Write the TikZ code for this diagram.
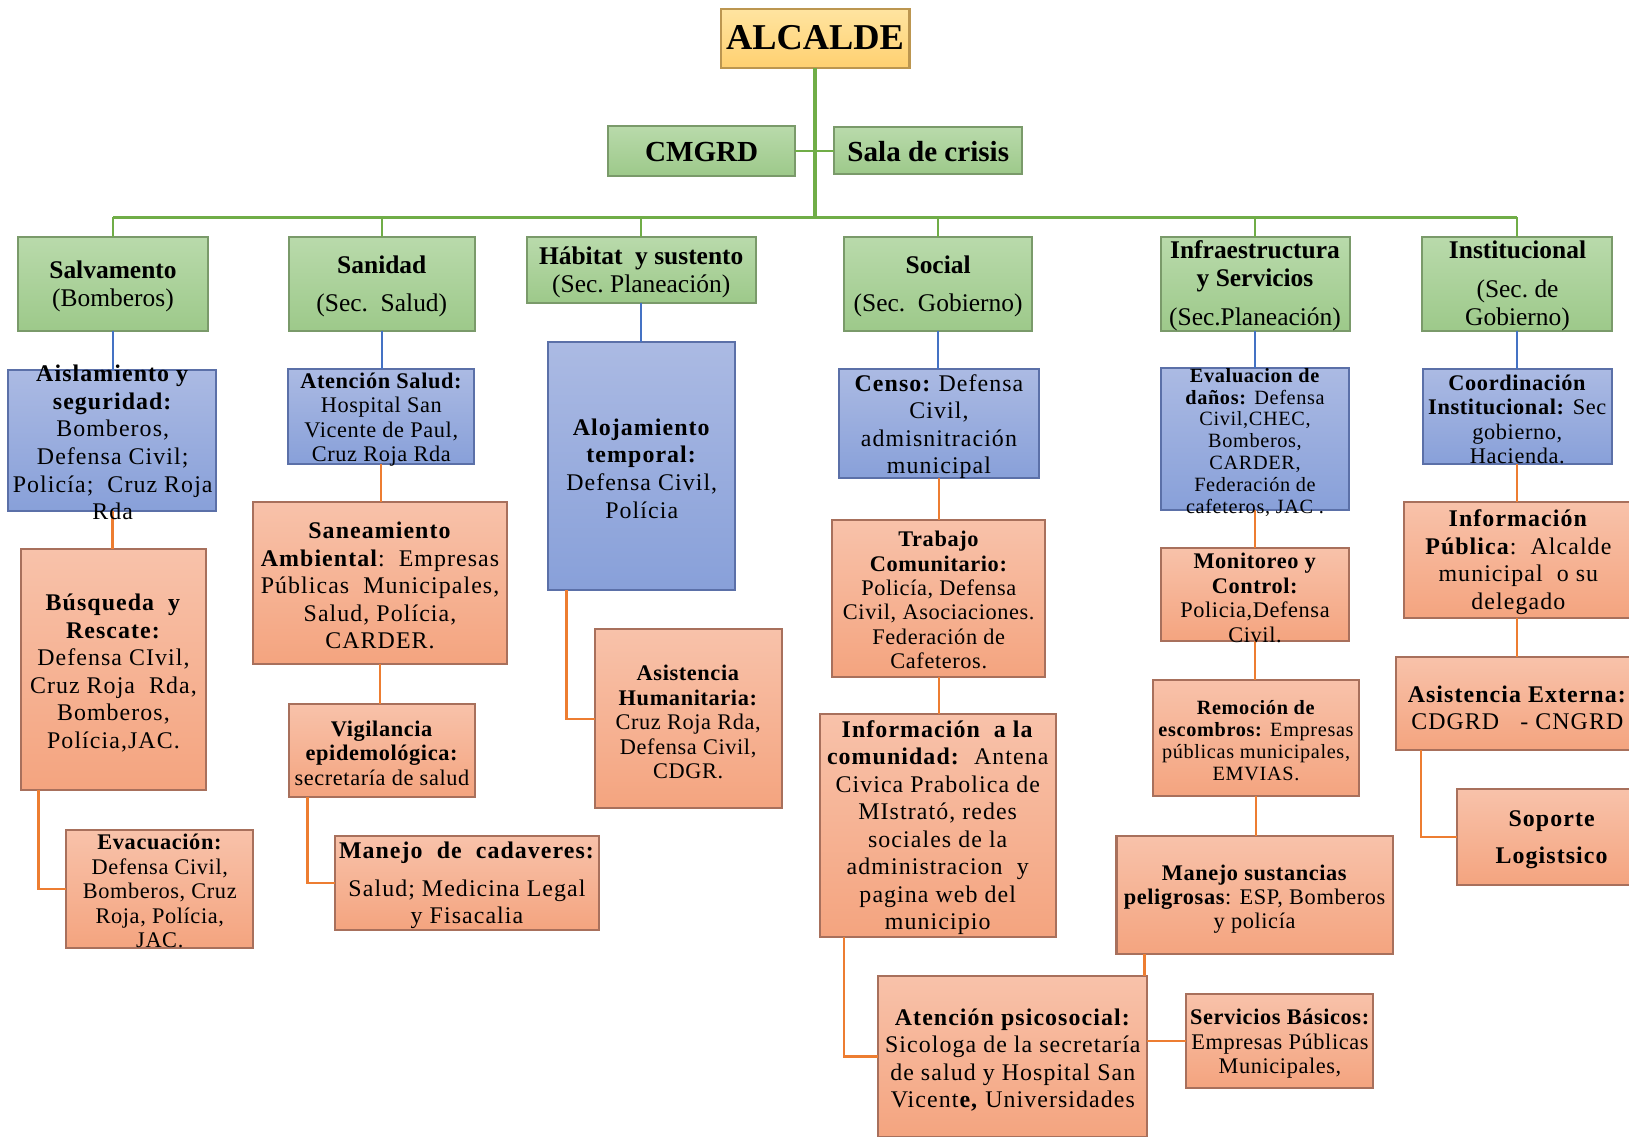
\documentclass[tikz,border=0pt]{standalone}
\usepackage{fontspec}
\setmainfont{Liberation Serif}
\newfontfamily\lsA[LetterSpace=4.5]{Liberation Serif}
\newfontfamily\lsB[LetterSpace=2.75]{Liberation Serif}
\newfontfamily\lsC[LetterSpace=3.25]{Liberation Serif}
\definecolor{gtop}{HTML}{B9DAAB}
\definecolor{gbot}{HTML}{9DC98A}
\definecolor{gdraw}{HTML}{7A9A6A}
\definecolor{btop}{HTML}{ABBAE3}
\definecolor{bbot}{HTML}{88A0D9}
\definecolor{bdraw}{HTML}{5B70A8}
\definecolor{otop}{HTML}{F8C2AA}
\definecolor{obot}{HTML}{F4A47F}
\definecolor{odraw}{HTML}{A8705C}
\definecolor{ytop}{HTML}{FFE4A0}
\definecolor{ybot}{HTML}{FFD070}
\definecolor{ydraw}{HTML}{BC9650}
\definecolor{lgreen}{HTML}{70AD47}
\definecolor{lblue}{HTML}{4472C4}
\definecolor{lorange}{HTML}{ED7D31}
\newcommand\fszA{\lsA\fontsize{11.5}{13.25}\selectfont}
\newcommand\fszB{\lsB\fontsize{10.75}{11.75}\selectfont}
\newcommand\fszC{\lsC\fontsize{9.75}{10.5}\selectfont}
\newcommand\fszH{\fontsize{12.25}{13.5}\selectfont}
\newcommand\mkbox[6]{\node[#1, minimum width={(#5-#3)*0.5pt}, minimum height={(#6-#4)*0.5pt}] (#2) at ({(#3+#5)/2},{(#4+#6)/2}) {};}
\newcommand\mktxt[5]{\node[txt, font=#2] (#1) at (#3,#4) {#5};}
\tikzset{
  bxbase/.style={rectangle, inner sep=0pt, outer sep=0pt, line width=1pt},
  gbox/.style={bxbase, top color=gtop, bottom color=gbot, draw=gdraw},
  bbox/.style={bxbase, top color=btop, bottom color=bbot, draw=bdraw},
  obox/.style={bxbase, top color=otop, bottom color=obot, draw=odraw},
  ybox/.style={bxbase, top color=ytop, bottom color=ybot, draw=ydraw},
  txt/.style={align=center, inner sep=0pt, text=black},
  gline/.style={draw=lgreen, line width=1.1pt},
  bline/.style={draw=lblue, line width=1.1pt},
  oline/.style={draw=lorange, line width=1.2pt},
}
\begin{document}
\begin{tikzpicture}[x=0.5pt,y=-0.5pt]
\useasboundingbox (0,0) rectangle (1568,1094);
\clip (0,0) rectangle (1568,1094);
% ---------- boxes
\mkbox{ybox}{alc}{693.7}{9}{875.4}{65.8}
\mkbox{gbox}{cmgrd}{585.5}{121}{765.2}{169.4}
\mkbox{gbox}{sala}{803.2}{122.6}{983.7}{167.8}
\mkbox{gbox}{salv}{17.6}{228.4}{199.9}{318.3}
\mkbox{gbox}{san}{277.9}{228.4}{457.1}{318.3}
\mkbox{gbox}{hab}{507}{228.4}{727.5}{291.3}
\mkbox{gbox}{soc}{812.8}{228.4}{993}{318.3}
\mkbox{gbox}{inf}{1117.2}{228.4}{1299.3}{318.3}
\mkbox{gbox}{inst}{1369}{228.4}{1551.3}{318.3}
\mkbox{bbox}{ais}{8}{356.1}{208.2}{491.6}
\mkbox{bbox}{ats}{277}{355.5}{456.5}{446.6}
\mkbox{bbox}{aloj}{527.7}{328.9}{707.7}{567.9}
\mkbox{bbox}{censo}{807.2}{355.5}{1000.4}{460.4}
\mkbox{bbox}{eval}{1117.2}{354.5}{1298.8}{490.9}
\mkbox{bbox}{coord}{1369.4}{355.5}{1551.3}{447}
\mkbox{obox}{busq}{19.8}{528.8}{198.5}{760.4}
\mkbox{obox}{evac}{63.9}{799}{243.6}{912.8}
\mkbox{obox}{sane}{243.5}{482.9}{488}{639.1}
\mkbox{obox}{vig}{277.8}{677.6}{457.5}{766.8}
\mkbox{obox}{cad}{322.4}{804.4}{576.6}{895.2}
\mkbox{obox}{hum}{572.4}{605.8}{752.4}{778}
\mkbox{obox}{trab}{801.2}{500.5}{1006}{651.3}
\mkbox{obox}{infc}{789.2}{687}{1016}{901.6}
\mkbox{obox}{psi}{845.5}{939.5}{1104.2}{1094.5}
\mkbox{obox}{serv}{1142}{956.8}{1321.9}{1047}
\mkbox{obox}{mon}{1117.2}{527.2}{1298.8}{616.7}
\mkbox{obox}{rem}{1109.5}{654.5}{1308.4}{766.5}
\mkbox{obox}{sust}{1074.7}{804.7}{1341}{918.6}
\mkbox{obox}{ipub}{1351.7}{482.9}{1575}{595.2}
\mkbox{obox}{aext}{1344}{632.8}{1578}{721.9}
\mkbox{obox}{sop}{1402}{759.8}{1585}{851.9}
% ---------- green tree
\coordinate (bus) at (784.3,209.2);
\draw[gline, line width=1.6pt] (alc.south) -- (alc.south |- bus);
\draw[gline, line width=1.6pt] (salv.north |- bus) -- (inst.north |- bus);
\foreach \n in {salv,san,hab,soc,inf,inst} \draw[gline] (\n.north) -- (\n.north |- bus);
\draw[gline] (cmgrd.east) -- (cmgrd.east -| alc.south);
\draw[gline] (sala.west) -- (sala.west -| alc.south);
% ---------- blue drops
\draw[bline] (salv.south) -- (salv.south |- ais.north);
\draw[bline] (san.south) -- (san.south |- ats.north);
\draw[bline] (hab.south) -- (hab.south |- aloj.north);
\draw[bline] (soc.south) -- (soc.south |- censo.north);
\draw[bline] (inf.south) -- (inf.south |- eval.north);
\draw[bline] (inst.south) -- (inst.south |- coord.north);
% ---------- orange connectors
\draw[oline] (ais.south) -- (ais.south |- busq.north);
\draw[oline] ([xshift=8.6pt]busq.south west) |- (evac.west);
\draw[oline] (ats.south) -- (ats.south |- sane.north);
\draw[oline] (sane.south) -- (sane.south |- vig.north);
\draw[oline] ([xshift=9.1pt]vig.south west) |- (cad.west);
\draw[oline] ([xshift=8.8pt]aloj.south west) |- (hum.west);
\draw[oline] (censo.south) -- (censo.south |- trab.north);
\draw[oline] (trab.south) -- (trab.south |- infc.north);
\draw[oline] ([xshift=11.6pt]infc.south west) |- (psi.west);
\draw[oline] (serv.west) -- (serv.west -| psi.east);
\draw[oline] (eval.south) -- (eval.south |- mon.north);
\draw[oline] (mon.south) -- (mon.south |- rem.north);
\draw[oline] (rem.south) -- (rem.south |- sust.north);
\path ([xshift=13.45pt]sust.south west) coordinate (sj);
\draw[oline] (sj) -- (sj |- psi.north);
\draw[oline] (coord.south) -- (coord.south |- ipub.north);
\draw[oline] (coord.south |- ipub.south) -- (coord.south |- aext.north);
\draw[oline] ([xshift=12pt]aext.south west) |- (sop.west);
% ---------- texts
\mktxt{t-alc}{\fontsize{17.5}{20}\selectfont\bfseries}{784.5}{36.5}{ALCALDE}
\mktxt{t-cmgrd}{\fontsize{14}{16}\selectfont\bfseries}{675.4}{146.4}{CMGRD}
\mktxt{t-sala}{\fontsize{14}{16}\selectfont\bfseries}{893.5}{146}{Sala de crisis}
\mktxt{t-salv}{\fszH}{108.75}{275.9}{\textbf{Salvamento}\\(Bomberos)}
\mktxt{t-san}{\fszH}{367.5}{275.8}{\textbf{Sanidad}\\[5pt](Sec.\ \ Salud)}
\mktxt{t-hab}{\fszH}{617.2}{262}{\textbf{Hábitat\ \ y sustento}\\(Sec.\ Planeación)}
\mktxt{t-soc}{\fszH}{903}{275.5}{\textbf{Social}\\[5pt](Sec.\ \ Gobierno)}
\mktxt{t-inf}{\fszH}{1208}{275.2}{\textbf{Infraestructura}\\\textbf{y Servicios}\\[5.2pt](Sec.Planeación)}
\mktxt{t-inst}{\fszH}{1460.7}{275.2}{\textbf{Institucional}\\[5.2pt](Sec.\ de\\Gobierno)}
\mktxt{t-ais}{\fszA}{108.5}{426}{\textbf{Aislamiento y}\\\textbf{seguridad:}\\Bomberos,\\Defensa Civil;\\Policía;\ \ Cruz Roja\\Rda}
\mktxt{t-ats}{\fszB}{367}{404}{\textbf{Atención Salud:}\\Hospital San\\Vicente de Paul,\\Cruz Roja Rda}
\mktxt{t-aloj}{\fszA}{617.7}{451}{\textbf{Alojamiento}\\\textbf{temporal:}\\Defensa Civil,\\Polícia}
\mktxt{t-censo}{\fszA}{903.8}{410.8}{\textbf{Censo:}\ Defensa\\Civil,\\admisnitración\\municipal}
\mktxt{t-eval}{\fszC}{1208}{425.7}{\textbf{Evaluacion de}\\\textbf{daños:} Defensa\\Civil,CHEC,\\Bomberos,\\CARDER,\\Federación de\\cafeteros, JAC .}
\mktxt{t-coord}{\fszB}{1460.5}{403.6}{\textbf{Coordinación}\\\textbf{Institucional:} Sec\\gobierno,\\Hacienda.}
\mktxt{t-busq}{\fszA}{109.2}{648}{\textbf{Búsqueda\ \ y}\\\textbf{Rescate:}\\Defensa CIvil,\\Cruz Roja\ \ Rda,\\Bomberos,\\Polícia,JAC.}
\mktxt{t-evac}{\fszB}{153.8}{857.6}{\textbf{Evacuación:}\\Defensa Civil,\\Bomberos, Cruz\\Roja, Polícia,\\JAC.}
\mktxt{t-sane}{\fszA}{365.8}{563.7}{\textbf{Saneamiento}\\\textbf{Ambiental}:\ \ Empresas\\Públicas\ \ Municipales,\\Salud, Polícia,\\CARDER.}
\mktxt{t-vig}{\fszB}{367.6}{725}{\textbf{Vigilancia}\\\textbf{epidemológica:}\\secretaría de salud}
\mktxt{t-cad}{\fszA}{449.5}{852}{\textbf{Manejo\ \ de\ \ cadaveres:}\\[5pt]Salud; Medicina Legal\\y Fisacalia}
\mktxt{t-hum}{\fszB}{662.4}{695}{\textbf{Asistencia}\\\textbf{Humanitaria:}\\Cruz Roja Rda,\\Defensa Civil,\\CDGR.}
\mktxt{t-trab}{\fszB}{903.6}{577.7}{\textbf{Trabajo}\\\textbf{Comunitario:}\\Policía, Defensa\\Civil, Asociaciones.\\Federación de\\Cafeteros.}
\mktxt{t-infc}{\fszA}{902.6}{796.7}{\textbf{Información\ \ a la}\\\textbf{comunidad:}\ \ Antena\\Civica Prabolica de\\MIstrató, redes\\sociales de la\\administracion\ \ y\\pagina web del\\municipio}
\mktxt{t-psi}{\fszA}{974.9}{1020.4}{\textbf{Atención psicosocial:}\\Sicologa de la secretaría\\de salud y Hospital San\\Vicent\textbf{e,} Universidades}
\mktxt{t-serv}{\fszB}{1232}{1004.9}{\textbf{Servicios Básicos:}\\Empresas Públicas\\Municipales,}
\mktxt{t-mon}{\fszB}{1208}{575.4}{\textbf{Monitoreo y}\\\textbf{Control:}\\Policia,Defensa\\Civil.}
\mktxt{t-rem}{\fszC}{1209}{712.9}{\textbf{Remoción de}\\\textbf{escombros:} Empresas\\públicas municipales,\\EMVIAS.}
\mktxt{t-sust}{\fszB}{1207.6}{865.5}{\textbf{Manejo sustancias}\\\textbf{peligrosas}: ESP, Bomberos\\y policía}
\mktxt{t-ipub}{\fszA}{1461.5}{541}{\textbf{Información}\\\textbf{Pública}:\ \ Alcalde\\municipal\ \ o su\\delegado}
\mktxt{t-aext}{\fszA}{1460.5}{681.5}{\textbf{Asistencia Externa:}\\CDGRD\ \ \ - CNGRD}
\mktxt{t-sop}{\fszA\bfseries}{1493.5}{808}{Soporte\\[4.75pt]Logistsico}
\end{tikzpicture}
\end{document}
